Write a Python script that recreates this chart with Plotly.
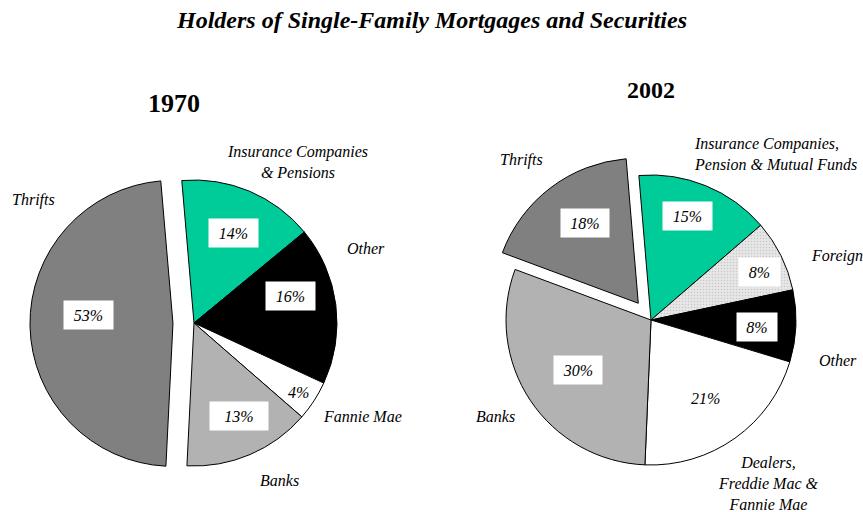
import math
import plotly.graph_objects as go

# ---------------- data ----------------
title_text = "Holders of Single-Family Mortgages and Securities"

year_1970 = "1970"
cats_1970 = ["Insurance Companies<br>& Pensions", "Other", "Fannie Mae", "Banks", "Thrifts"]
# slice sizes as drawn in the picture (angles), and the printed percentage labels
share_1970 = [15.4, 17.9, 4.5, 14.4, 47.9]
label_1970 = ["14%", "16%", "4%", "13%", "53%"]

year_2002 = "2002"
cats_2002 = ["Insurance Companies,<br>Pension & Mutual Funds", "Foreign", "Other",
             "Dealers,<br>Freddie Mac &<br>Fannie Mae", "Banks", "Thrifts"]
share_2002 = [15, 8, 8, 21, 30, 18]
label_2002 = ["15%", "8%", "8%", "21%", "30%", "18%"]

# ---------------- layout / styles ----------------
W, H = 863, 512
FONT = "Liberation Serif, Times New Roman, serif"

TEAL = "#00CC99"
DARK = "#808080"
LIGHT = "#B2B2B2"

pies = [
    dict(cats=cats_1970, vals=share_1970, labels=label_1970, year=year_1970,
         cx=194, cy=323, r=143, pull_amt=0.147, rot=-4.9,
         colors=[TEAL, "#000000", "#FFFFFF", LIGHT, DARK],
         pulled=[0, 0, 0, 0, 1],
         pattern=["", "", "", "", ""],
         lab_frac=[0.69, 0.70, 0.88, 0.72, 0.59],
         lab_dth=[0.9, -8.6, 0.8, -2.7, 6.5],
         box_w=[49, 49, None, 58, 49],
         year_xy=(174, 103), year_size=26,
         out_xy=[(297, 162, "center"), (366, 248, "center"), (362, 416, "center"),
                 (279, 480, "center"), (33, 200, "center")]),
    dict(cats=cats_2002, vals=share_2002, labels=label_2002, year=year_2002,
         cx=651, cy=320, r=145, pull_amt=0.145, rot=-4.8,
         colors=[TEAL, "#E6E6E6", "#000000", "#FFFFFF", LIGHT, DARK],
         pulled=[0, 0, 0, 0, 0, 1],
         pattern=["", ".", "", "", "", ""],
         lab_frac=[0.76, 0.82, 0.73, 0.66, 0.61, 0.66],
         lab_dth=[-2.6, 2.4, 1.4, 1.0, -0.8, 3.7],
         box_w=[49, 41, 40, None, 48, 48],
         year_xy=(651, 90), year_size=24,
         out_xy=[(692, 154, "left"), (837, 256, "center"), (838, 360, "center"),
                 (768, 483, "center"), (495, 416, "center"), (521, 160, "center")]),
]


def px(x):
    return x / W


def py(y):
    return 1 - y / H


fig = go.Figure()
annotations = []

for p in pies:
    half = p["r"] * (1 + p["pull_amt"])
    fig.add_trace(go.Pie(
        labels=[c.replace("<br>", " ") for c in p["cats"]],
        values=p["vals"],
        sort=False,
        direction="clockwise",
        rotation=p["rot"],
        pull=[p["pull_amt"] * k for k in p["pulled"]],
        marker=dict(colors=p["colors"],
                    line=dict(color="#000000", width=1),
                    pattern=dict(shape=p["pattern"], fillmode="overlay",
                                 fgcolor="#a8a8a8", size=3, solidity=0.2)),
        textinfo="none",
        hoverinfo="label+percent",
        domain=dict(x=[px(p["cx"] - half), px(p["cx"] + half)],
                    y=[py(p["cy"] + half), py(p["cy"] - half)]),
        showlegend=False,
    ))

    # percentage labels placed from the data-derived slice angles
    total = sum(p["vals"])
    ang = p["rot"]
    for i, v in enumerate(p["vals"]):
        span = 360 * v / total
        mid = ang + span / 2
        ang += span
        ox = oy = 0.0
        if p["pulled"][i]:
            ox = p["pull_amt"] * p["r"] * math.sin(math.radians(mid))
            oy = -p["pull_amt"] * p["r"] * math.cos(math.radians(mid))
        th = math.radians(mid + p["lab_dth"][i])
        lx = p["cx"] + ox + p["lab_frac"][i] * p["r"] * math.sin(th)
        ly = p["cy"] + oy - p["lab_frac"][i] * p["r"] * math.cos(th)
        bw = p["box_w"][i]
        ann = dict(x=px(lx), y=py(ly), xref="paper", yref="paper",
                   text="<i>" + p["labels"][i] + "</i>", showarrow=False,
                   font=dict(family=FONT, size=16, color="#000000"),
                   xanchor="center", yanchor="middle", borderpad=0)
        if bw:
            ann.update(bgcolor="#FFFFFF", width=bw, height=28)
        annotations.append(ann)

    # category labels outside the pies
    for (x, y, al), c in zip(p["out_xy"], p["cats"]):
        annotations.append(dict(
            x=px(x), y=py(y), xref="paper", yref="paper",
            text="<i>" + c.replace("<br>", "</i><br><i>") + "</i>", showarrow=False,
            align=al, xanchor=al, yanchor="middle",
            font=dict(family=FONT, size=16, color="#000000")))

    # year headings
    annotations.append(dict(
        x=px(p["year_xy"][0]), y=py(p["year_xy"][1]), xref="paper", yref="paper",
        text="<b>" + p["year"] + "</b>", showarrow=False,
        xanchor="center", yanchor="middle",
        font=dict(family=FONT, size=p["year_size"], color="#000000")))

annotations.append(dict(
    x=px(431), y=py(20), xref="paper", yref="paper",
    text="<b><i>" + title_text + "</i></b>", showarrow=False,
    xanchor="center", yanchor="middle",
    font=dict(family=FONT, size=24, color="#000000")))

fig.update_layout(
    width=W, height=H,
    margin=dict(l=0, r=0, t=0, b=0),
    paper_bgcolor="#FFFFFF", plot_bgcolor="#FFFFFF",
    annotations=annotations,
    showlegend=False,
)

fig.write_html("out.html",
               config={"displayModeBar": False},
               post_script="document.body.style.margin='0';document.body.style.overflow='hidden';")
